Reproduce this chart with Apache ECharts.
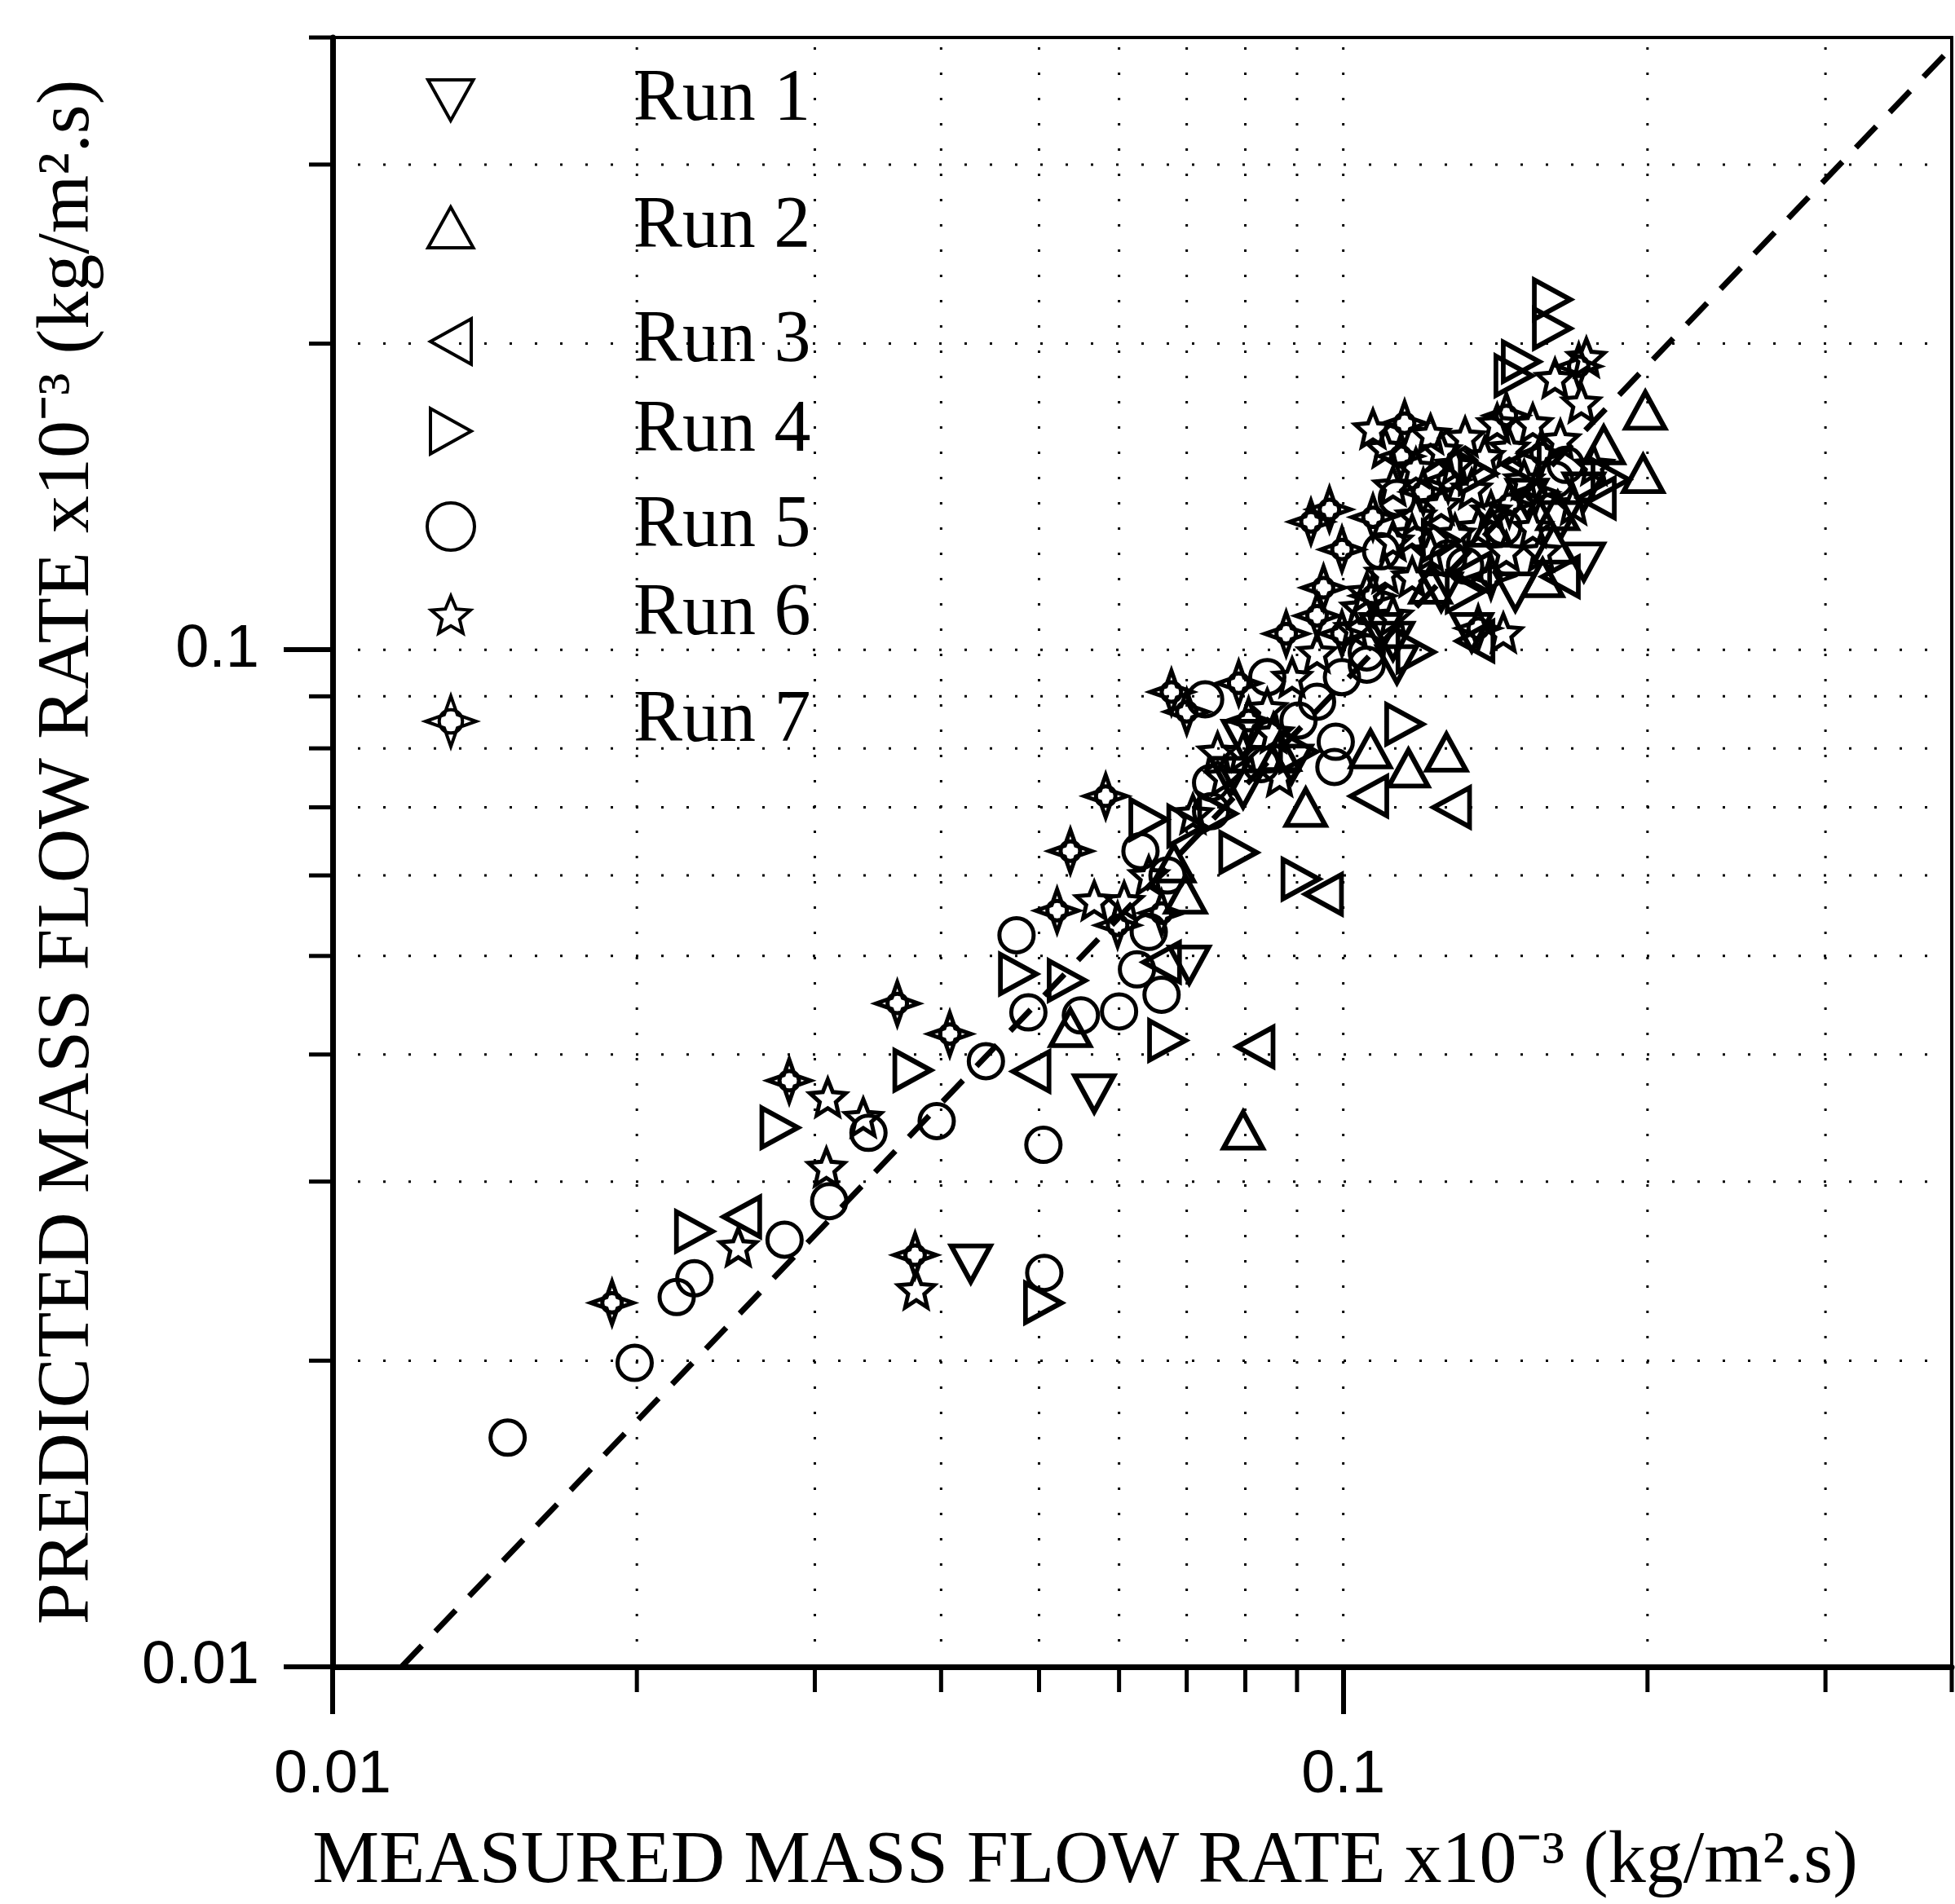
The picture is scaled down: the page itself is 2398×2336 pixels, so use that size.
<!DOCTYPE html>
<html><head><meta charset="utf-8">
<script src="https://cdn.jsdelivr.net/npm/echarts@6/dist/echarts.min.js"></script>
<style>html,body{margin:0;padding:0;background:#fff}#c{width:2398px;height:2336px}</style>
</head><body><div id="c"></div>
<script>
// ---------------- data ----------------
const seriesNames = ['Run 1', 'Run 2', 'Run 3', 'Run 4', 'Run 5', 'Run 6', 'Run 7'];

const run1 = [[0.0567,0.0366],[0.0428,0.0249],[0.0704,0.0490],[0.125,0.114],[0.134,0.104],[0.152,0.141],
  [0.173,0.143],[0.109,0.104],[0.0796,0.0817],[0.113,0.0967],[0.164,0.134],[0.0773,0.0751],[0.173,0.122],
  [0.0889,0.0772],[0.148,0.114],[0.112,0.102],[0.0796,0.073]];

const run2 = [[0.0796,0.0337],[0.1265,0.0793],[0.116,0.0765],[0.0918,0.0700],[0.0698,0.0575],[0.1575,0.1177],
  [0.199,0.172],[0.198,0.149],[0.181,0.159],[0.0537,0.0425],[0.1064,0.0799],[0.1615,0.127],[0.140,0.132],
  [0.122,0.116],[0.163,0.137],[0.0865,0.0794],[0.068,0.0617]];

const run3 = [[0.128,0.070],[0.106,0.0718],[0.0956,0.0575],[0.0818,0.0407],[0.0491,0.0385],[0.0254,0.0277],
  [0.150,0.152],[0.134,0.119],[0.0661,0.0493],[0.135,0.102],[0.178,0.141],[0.164,0.118]];

const run4 = [[0.161,0.221],[0.161,0.207],[0.150,0.192],[0.115,0.0845],[0.0788,0.0632],[0.0908,0.0595],
  [0.067,0.0413],[0.0533,0.0473],[0.0375,0.0386],[0.0277,0.0339],[0.0228,0.0268],[0.0505,0.0228],
  [0.0477,0.048],[0.118,0.0995],[0.1475,0.186],[0.125,0.128],[0.0751,0.069],[0.0642,0.0681],
  [0.136,0.149],[0.184,0.147],[0.132,0.114],[0.070,0.0671],[0.0903,0.0794]];

const run5 = [[0.0149,0.0168],[0.0199,0.0199],[0.0219,0.0231],[0.0228,0.0241],[0.028,0.0263],[0.031,0.0287],
  [0.0339,0.0335],[0.0396,0.0344],[0.0443,0.0394],[0.0505,0.0326],[0.0506,0.0244],[0.0475,0.0524],
  [0.060,0.0441],[0.0488,0.044],[0.055,0.0437],[0.0625,0.0485],[0.0661,0.0458],[0.073,0.0894],
  [0.0903,0.0852],[0.0997,0.094],[0.0983,0.0812],[0.063,0.0634],[0.067,0.060],[0.074,0.0694],
  [0.0829,0.0772],[0.1055,0.0994],[0.144,0.132],[0.098,0.0767],[0.132,0.121],[0.166,0.152],
  [0.113,0.141],[0.162,0.147],[0.127,0.123],[0.109,0.125],[0.0942,0.0889],[0.1055,0.0967],
  [0.074,0.074],[0.0841,0.094],[0.0642,0.0528]];

const run6 = [[0.0378,0.0235],[0.0308,0.031],[0.0309,0.0363],[0.0252,0.0259],[0.0335,0.0347],[0.144,0.104],
  [0.110,0.158],[0.118,0.151],[0.125,0.157],[0.132,0.162],[0.138,0.155],[0.134,0.144],[0.125,0.139],
  [0.118,0.1355],[0.142,0.167],[0.154,0.167],[0.164,0.161],[0.172,0.175],[0.122,0.125],[0.129,0.130],
  [0.145,0.125],[0.154,0.132],[0.112,0.145],[0.177,0.152],[0.174,0.194],[0.162,0.185],[0.112,0.128],
  [0.140,0.137],[0.1055,0.114],[0.112,0.108],[0.1026,0.105],[0.110,0.119],[0.089,0.094],[0.0841,0.0876],
  [0.0796,0.0794],[0.0762,0.0751],[0.0942,0.0994],[0.117,0.118],[0.071,0.069],[0.0607,0.0566],
  [0.107,0.165],[0.122,0.163],[0.129,0.152],[0.146,0.158],[0.151,0.147],[0.169,0.139],[0.136,0.132],
  [0.117,0.130],[0.157,0.125],[0.0751,0.0794],[0.0853,0.0829],[0.104,0.110],[0.0865,0.0751],
  [0.0642,0.060],[0.0567,0.0567]];

const run7 = [[0.0189,0.0228],[0.0283,0.0377],[0.0362,0.0449],[0.0408,0.0419],[0.0377,0.0254],[0.0521,0.0554],
  [0.0537,0.0634],[0.0582,0.0718],[0.0676,0.0909],[0.070,0.0869],[0.0788,0.0927],[0.0929,0.1336],
  [0.0969,0.1374],[0.0997,0.1255],[0.0956,0.1151],[0.0878,0.1037],[0.0661,0.0551],[0.0598,0.0536],
  [0.136,0.105],[0.114,0.155],[0.145,0.170],[0.171,0.190],[0.127,0.147],[0.155,0.143],[0.107,0.113],
  [0.115,0.167],[0.120,0.143],[0.157,0.156],[0.146,0.139],[0.107,0.135],[0.140,0.118],
  [0.0806,0.0852],[0.0997,0.1037],[0.0942,0.108]];

const diagonalLine = [[0.0117,0.01],[0.399,0.39]];

const axisMin = 0.01, axisMax = 0.4;
const majorTicks = [0.01, 0.1];
const majorTickLabels = ['0.01', '0.1'];
const minorTicks = [0.02,0.03,0.04,0.05,0.06,0.07,0.08,0.09,0.2,0.3,0.4];
const gridValues = [0.02,0.03,0.04,0.05,0.06,0.07,0.08,0.09,0.1,0.2,0.3];

const xTitle = 'MEASURED MASS FLOW RATE x10\u207B\u00B3 (kg/m\u00B2.s)';
const yTitle = 'PREDICTED MASS FLOW RATE x10\u207B\u00B3 (kg/m\u00B2.s)';

// ---------------- styling ----------------
const SERIF = "'Liberation Serif','Times New Roman',serif";
const SANS = "'Liberation Sans',Arial,sans-serif";
const SYM = {
  down: 'path://M0,0L10,0L5,9Z',
  up: 'path://M5,0L10,9L0,9Z',
  left: 'path://M0,5L9,0L9,10Z',
  right: 'path://M0,0L9,5L0,10Z',
  circle: 'circle',
  star: 'path://M10,0L12.65,6.36L19.51,6.91L14.28,11.39L15.88,18.09L10,14.5L4.12,18.09L5.72,11.39L0.49,6.91L7.35,6.36Z',
  spark: 'path://M10,0L12.6,7.4L20,10L12.6,12.6L10,20L7.4,12.6L0,10L7.4,7.4Z M14.6,10A4.6,4.6 0 1,1 5.4,10A4.6,4.6 0 1,1 14.6,10Z'
};
const runData = [run1, run2, run3, run4, run5, run6, run7];
const runSymbol = [SYM.down, SYM.up, SYM.left, SYM.right, SYM.circle, SYM.star, SYM.spark];
const runSize = [[48,44],[48,44],[44,48],[44,48],42,44,52];
const runBorder = [6,6,6,6,5,5,5];
const legendIcon = [[56,50],[56,50],[50,56],[50,56],[58,58],[48,48],[62,62]];
const legendCenterY = [123, 279, 419, 529, 646, 754, 885];

function labelFor(v) {
  for (let i = 0; i < majorTicks.length; i++) {
    if (Math.abs(Math.log10(v) - Math.log10(majorTicks[i])) < 1e-6) return majorTickLabels[i];
  }
  return '';
}

const chart = echarts.init(document.getElementById('c'), null, {renderer: 'canvas'});

const scatterSeries = seriesNames.map((n, i) => ({
  name: n, type: 'scatter', data: runData[i], symbol: runSymbol[i], symbolSize: runSize[i],
  itemStyle: {color: 'rgba(0,0,0,0)', borderColor: '#000', borderWidth: runBorder[i], opacity: 1},
  z: 4, silent: true
}));

const legends = seriesNames.map((n, i) => ({
  data: [{name: n, icon: runSymbol[i]}],
  orient: 'vertical', padding: 0, selectedMode: false,
  left: 551 - legendIcon[i][0] / 2,
  top: legendCenterY[i] - 45,
  itemWidth: legendIcon[i][0], itemHeight: legendIcon[i][1],
  itemStyle: {color: 'rgba(0,0,0,0)', borderColor: '#000', borderWidth: 4, opacity: 1},
  textStyle: {fontFamily: SERIF, fontSize: 90, lineHeight: 90, color: '#000',
    padding: [0, 0, 0, 775 - (551 + legendIcon[i][0] / 2) - 5]}
}));

const gridLineStyle = {stroke: '#000', lineWidth: 3, lineDash: [3, 28]};

const option = {
  animation: false,
  backgroundColor: '#fff',
  grid: {left: 408, top: 46, width: 1986, height: 2000, show: true, borderColor: '#000', borderWidth: 4,
    backgroundColor: 'rgba(0,0,0,0)', containLabel: false},
  legend: legends,
  xAxis: {
    type: 'log', logBase: 10, min: axisMin, max: axisMax,
    axisLine: {show: true, onZero: false, lineStyle: {color: '#000', width: 7}},
    axisTick: {show: true, length: 58, lineStyle: {color: '#000', width: 6}, customValues: majorTicks},
    axisLabel: {fontFamily: SANS, fontSize: 74, color: '#000', margin: 97, formatter: labelFor, customValues: majorTicks},
    splitLine: {show: false}, minorTick: {show: false}, minorSplitLine: {show: false},
    name: xTitle, nameLocation: 'middle', nameGap: 194,
    nameTextStyle: {fontFamily: SERIF, fontSize: 92, color: '#000', padding: [0, 140, 0, 0]}
  },
  yAxis: {
    type: 'log', logBase: 10, min: axisMin, max: axisMax,
    axisLine: {show: true, onZero: false, lineStyle: {color: '#000', width: 7}},
    axisTick: {show: true, length: 60, lineStyle: {color: '#000', width: 6}, customValues: majorTicks},
    axisLabel: {fontFamily: SANS, fontSize: 74, color: '#000', margin: 90, formatter: labelFor, customValues: majorTicks},
    splitLine: {show: false}, minorTick: {show: false}, minorSplitLine: {show: false},
    name: yTitle, nameLocation: 'middle', nameGap: 278, nameRotate: 90,
    nameTextStyle: {fontFamily: SERIF, fontSize: 92, color: '#000'}
  },
  series: [
    {
      type: 'custom', name: 'xgrid', silent: true, clip: false, z: 1,
      data: gridValues.map(v => [v, axisMin]),
      renderItem: (params, api) => {
        const v = api.value(0);
        const a = api.coord([v, axisMin]), b = api.coord([v, axisMax]);
        return {type: 'line', shape: {x1: a[0], y1: a[1], x2: b[0], y2: b[1]}, style: gridLineStyle};
      }
    },
    {
      type: 'custom', name: 'ygrid', silent: true, clip: false, z: 1,
      data: gridValues.map(v => [axisMin, v]),
      renderItem: (params, api) => {
        const v = api.value(1);
        const a = api.coord([axisMin, v]), b = api.coord([axisMax, v]);
        return {type: 'line', shape: {x1: a[0], y1: a[1], x2: b[0], y2: b[1]}, style: gridLineStyle};
      }
    },
    {
      type: 'custom', name: 'xminor', silent: true, clip: false, z: 6,
      data: minorTicks.map(v => [v, axisMin]),
      renderItem: (params, api) => {
        const a = api.coord([api.value(0), axisMin]);
        return {type: 'line', shape: {x1: a[0], y1: a[1], x2: a[0], y2: a[1] + 31}, style: {stroke: '#000', lineWidth: 5}};
      }
    },
    {
      type: 'custom', name: 'yminor', silent: true, clip: false, z: 6,
      data: minorTicks.map(v => [axisMin, v]),
      renderItem: (params, api) => {
        const a = api.coord([axisMin, api.value(1)]);
        return {type: 'line', shape: {x1: a[0] - 29, y1: a[1], x2: a[0], y2: a[1]}, style: {stroke: '#000', lineWidth: 5}};
      }
    },
    {
      type: 'line', name: 'y=x', data: diagonalLine, symbol: 'none', silent: true, z: 5,
      lineStyle: {color: '#000', width: 7, type: [36, 24], opacity: 1}
    },
    ...scatterSeries
  ]
};
chart.setOption(option);
</script>
</body></html>
